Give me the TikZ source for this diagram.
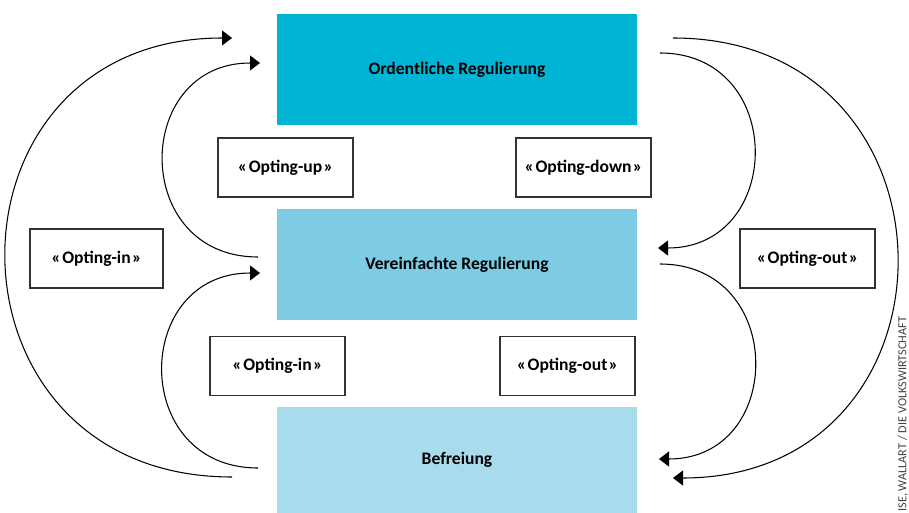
\documentclass[tikz,border=0pt]{standalone}
\usepackage{fontspec}
\setmainfont{Carlito}
\usepackage{tikz}
\usetikzlibrary{arrows.meta,positioning}

\definecolor{ordcol}{HTML}{00B4D6}
\definecolor{vercol}{HTML}{7ECCE4}
\definecolor{befcol}{HTML}{A8DBEC}

\begin{document}
\begin{tikzpicture}[x=0.02cm, y=-0.02cm,
  every node/.style={font=\fontsize{10}{12}\selectfont\bfseries},
  level/.style={minimum width=7.2cm, minimum height=2.22cm, inner sep=0pt},
  optbox/.style={draw=black!80, line width=0.6pt, fill=white, minimum width=2.7cm, minimum height=1.18cm, inner sep=0pt},
  flow/.style={line width=0.6pt, -{Triangle[length=2mm,width=3mm]}}]
  \useasboundingbox (0,0) rectangle (909,513);
  % regulation levels
  \node[level, fill=ordcol] (ord) at (457,69.5) {Ordentliche Regulierung};
  \node[level, fill=vercol] (ver) at (457,264.5) {Vereinfachte Regulierung};
  \node[level, fill=befcol, minimum height=2.12cm] (bef) at (457,460) {Befreiung};
  % option labels
  \node[optbox] (up) at (285.5,167.5) {«\kern0.8pt Opting-up\kern0.8pt»};
  \node[optbox] (down) at (583.5,167.5) {«\kern0.8pt Opting-down\kern0.8pt»};
  \node[optbox, minimum width=2.66cm] (inA) at (96.5,258.5) {«\kern0.8pt Opting-in\kern0.8pt»};
  \node[optbox] (outA) at (807.5,258.5) {«\kern0.8pt Opting-out\kern0.8pt»};
  \node[optbox] (inB) at (277.5,366) {«\kern0.8pt Opting-in\kern0.8pt»};
  \node[optbox] (outB) at (567.5,366) {«\kern0.8pt Opting-out\kern0.8pt»};
  % arrow ends
  \coordinate (lo1) at (232,477); \coordinate (lo2) at (232,38);
  \coordinate (lu1) at (258,257); \coordinate (lu2) at (260,63);
  \coordinate (ll1) at (258,468); \coordinate (ll2) at (260,273);
  \coordinate (ru1) at (660,53);  \coordinate (ru2) at (658,248);
  \coordinate (ro1) at (673,38);  \coordinate (ro2) at (673,478);
  \coordinate (rl1) at (660,264); \coordinate (rl2) at (659,459);
  % left: upwards
  \draw[flow] (lo1) to[out=180,in=180,looseness=1.76] (lo2);
  \draw[flow] (lu1) to[out=180,in=180,looseness=1.68] (lu2);
  \draw[flow] (ll1) to[out=180,in=180,looseness=1.68] (ll2);
  % right: downwards
  \draw[flow] (ru1) to[out=0,in=0,looseness=1.66] (ru2);
  \draw[flow] (ro1) to[out=0,in=0,looseness=1.74] (ro2);
  \draw[flow] (rl1) to[out=0,in=0,looseness=1.66] (rl2);
  % source
  \node[rotate=90, anchor=west, inner sep=0pt, text=black!75,
    font=\fontsize{7}{8}\selectfont] (src) at (903,512) {ISE, WALLART / DIE VOLKSWIRTSCHAFT};
\end{tikzpicture}
\end{document}
